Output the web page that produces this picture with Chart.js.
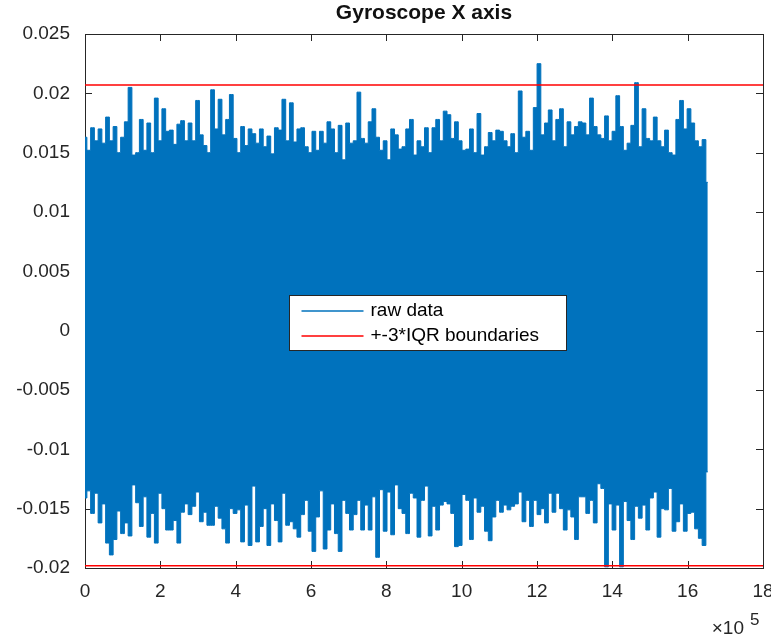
<!DOCTYPE html>
<html>
<head>
<meta charset="utf-8">
<title>Gyroscope X axis</title>
<script src="https://cdn.jsdelivr.net/npm/chart.js@4.4.1/dist/chart.umd.min.js"></script>
<style>
  html, body { margin: 0; padding: 0; background: #fff; }
</style>
</head>
<body>
<canvas id="gyro" width="771" height="640"></canvas>
<script>
// the raw signal has ~1.65M samples, so the band is kept as its upper and
// lower envelope, one pair every sampleStep samples
var sampleStep = 9960;
var rawUpper = [
    0.0163, 0.0152, 0.0171, 0.0160, 0.0170, 0.0158, 0.0180, 0.0160, 0.0172, 0.0150,
    0.0163, 0.0176, 0.0205, 0.0148, 0.0150, 0.0178, 0.0152, 0.0175, 0.0150, 0.0196,
    0.0160, 0.0187, 0.0168, 0.0169, 0.0157, 0.0174, 0.0177, 0.0160, 0.0175, 0.0160,
    0.0194, 0.0165, 0.0156, 0.0150, 0.0203, 0.0170, 0.0195, 0.0165, 0.0178, 0.0199,
    0.0162, 0.0150, 0.0172, 0.0156, 0.0170, 0.0166, 0.0158, 0.0170, 0.0155, 0.0164,
    0.0149, 0.0171, 0.0169, 0.0195, 0.0160, 0.0192, 0.0159, 0.0170, 0.0171, 0.0155,
    0.0150, 0.0168, 0.0152, 0.0168, 0.0158, 0.0176, 0.0170, 0.0150, 0.0173, 0.0144,
    0.0175, 0.0158, 0.0160, 0.0201, 0.0162, 0.0158, 0.0176, 0.0187, 0.0163, 0.0152,
    0.0160, 0.0144, 0.0170, 0.0165, 0.0153, 0.0155, 0.0170, 0.0178, 0.0148, 0.0160,
    0.0155, 0.0171, 0.0150, 0.0171, 0.0178, 0.0160, 0.0185, 0.0182, 0.0162, 0.0176,
    0.0160, 0.0152, 0.0153, 0.0170, 0.0150, 0.0183, 0.0148, 0.0155, 0.0167, 0.0160,
    0.0169, 0.0168, 0.0160, 0.0155, 0.0166, 0.0150, 0.0202, 0.0163, 0.0168, 0.0152,
    0.0188, 0.0225, 0.0165, 0.0175, 0.0186, 0.0160, 0.0178, 0.0187, 0.0155, 0.0176,
    0.0165, 0.0172, 0.0176, 0.0175, 0.0165, 0.0196, 0.0172, 0.0165, 0.0162, 0.0181,
    0.0160, 0.0168, 0.0198, 0.0172, 0.0152, 0.0158, 0.0173, 0.0209, 0.0155, 0.0187,
    0.0162, 0.0160, 0.0180, 0.0160, 0.0155, 0.0169, 0.0150, 0.0148, 0.0178, 0.0194,
    0.0170, 0.0187, 0.0175, 0.0160, 0.0155, 0.0161, 0.0125
];
var rawLower = [
    -0.0141, -0.0135, -0.0154, -0.0137, -0.0162, -0.0146, -0.0179, -0.0189, -0.0176, -0.0152,
    -0.0171, -0.0162, -0.0173, -0.0130, -0.0145, -0.0165, -0.0140, -0.0174, -0.0154, -0.0179,
    -0.0137, -0.0150, -0.0168, -0.0168, -0.0160, -0.0179, -0.0153, -0.0146, -0.0155, -0.0148,
    -0.0136, -0.0161, -0.0153, -0.0164, -0.0164, -0.0148, -0.0158, -0.0167, -0.0179, -0.0150,
    -0.0154, -0.0151, -0.0178, -0.0147, -0.0181, -0.0131, -0.0178, -0.0165, -0.0150, -0.0181,
    -0.0146, -0.0160, -0.0178, -0.0137, -0.0164, -0.0161, -0.0167, -0.0174, -0.0155, -0.0143,
    -0.0169, -0.0186, -0.0157, -0.0135, -0.0184, -0.0168, -0.0146, -0.0171, -0.0186, -0.0143,
    -0.0154, -0.0168, -0.0155, -0.0143, -0.0168, -0.0147, -0.0168, -0.0140, -0.0191, -0.0134,
    -0.0169, -0.0136, -0.0172, -0.0130, -0.0150, -0.0154, -0.0171, -0.0137, -0.0141, -0.0174,
    -0.0143, -0.0131, -0.0173, -0.0148, -0.0168, -0.0147, -0.0144, -0.0146, -0.0154, -0.0182,
    -0.0181, -0.0138, -0.0143, -0.0176, -0.0141, -0.0153, -0.0148, -0.0169, -0.0177, -0.0157,
    -0.0143, -0.0153, -0.0147, -0.0151, -0.0148, -0.0146, -0.0136, -0.0161, -0.0143, -0.0165,
    -0.0143, -0.0155, -0.0150, -0.0162, -0.0137, -0.0153, -0.0137, -0.0150, -0.0168, -0.0151,
    -0.0157, -0.0176, -0.0140, -0.0140, -0.0154, -0.0143, -0.0162, -0.0129, -0.0133, -0.0199,
    -0.0146, -0.0168, -0.0147, -0.0199, -0.0144, -0.0160, -0.0176, -0.0148, -0.0158, -0.0147,
    -0.0168, -0.0141, -0.0136, -0.0174, -0.0150, -0.0151, -0.0133, -0.0169, -0.0161, -0.0146,
    -0.0169, -0.0154, -0.0153, -0.0167, -0.0175, -0.0181, -0.0119
];
var iqrUpper = 0.0207;
var iqrLower = -0.0198;
var xRange = [0, 1800000];
var xTickLabels = [0, 2, 4, 6, 8, 10, 12, 14, 16, 18];   // in units of 10^5
var yTickValues = [-0.02, -0.015, -0.01, -0.005, 0, 0.005, 0.01, 0.015, 0.02, 0.025];
var legendNames = ['raw data', '+-3*IQR boundaries'];

var blue = '#0072BD';
var red = '#FF0000';
var axisColor = '#262626';
var fontFamily = "'Liberation Sans', Arial, Helvetica, sans-serif";
var tickLen = 7;

function envelope(vals) {
    return vals.map(function(v, i) { return {x: i * sampleStep, y: v}; });
}
function flat(v) {
    return xRange.map(function(x) { return {x: x, y: v}; });
}

// box, inward ticks, legend in the middle and the x10^5 exponent
var matlabFrame = {
    id: 'matlabFrame',
    beforeDatasetsDraw: function(chart) {
        var a = chart.chartArea, ctx = chart.ctx;
        var xs = chart.scales.x, ys = chart.scales.y;
        ctx.save();
        ctx.strokeStyle = axisColor;
        ctx.lineWidth = 1;
        ctx.beginPath();
        xs.ticks.forEach(function(t) {
            var px = Math.round(xs.getPixelForValue(t.value)) + 0.5;
            ctx.moveTo(px, a.bottom); ctx.lineTo(px, a.bottom - tickLen);
            ctx.moveTo(px, a.top); ctx.lineTo(px, a.top + tickLen);
        });
        ys.ticks.forEach(function(t) {
            var py = Math.round(ys.getPixelForValue(t.value)) + 0.5;
            ctx.moveTo(a.left, py); ctx.lineTo(a.left + tickLen, py);
            ctx.moveTo(a.right, py); ctx.lineTo(a.right - tickLen, py);
        });
        ctx.stroke();
        ctx.strokeRect(Math.round(a.left) + 0.5, Math.round(a.top) + 0.5,
            Math.round(a.right - a.left), Math.round(a.bottom - a.top));
        ctx.restore();
    },
    afterDraw: function(chart) {
        var a = chart.chartArea, ctx = chart.ctx;
        var w = 277, h = 55;
        var bx = Math.round(a.left + (a.right - a.left) * 0.505 - w / 2) + 0.5;
        var by = Math.round(a.top + (a.bottom - a.top) * 0.54 - h / 2) + 0.5;
        ctx.save();
        ctx.fillStyle = '#fff';
        ctx.fillRect(bx, by, w, h);
        ctx.strokeStyle = axisColor;
        ctx.lineWidth = 1;
        ctx.strokeRect(bx, by, w, h);
        var colors = [blue, red];
        ctx.font = '19px ' + fontFamily;
        ctx.textBaseline = 'middle';
        ctx.textAlign = 'left';
        legendNames.forEach(function(name, i) {
            var ry = Math.round(by + 15 + i * 25);
            ctx.strokeStyle = colors[i];
            ctx.lineWidth = 1.3;
            ctx.beginPath();
            ctx.moveTo(bx + 12, ry);
            ctx.lineTo(bx + 74, ry);
            ctx.stroke();
            ctx.fillStyle = '#000';
            ctx.fillText(name, bx + 81, ry);
        });

        ctx.fillStyle = axisColor;
        ctx.textBaseline = 'alphabetic';
        ctx.textAlign = 'right';
        ctx.font = '19px ' + fontFamily;
        ctx.fillText('\u00d710', a.right - 19, a.bottom + 66);
        ctx.textAlign = 'left';
        ctx.font = '17px ' + fontFamily;
        ctx.fillText('5', a.right - 13, a.bottom + 57);
        ctx.restore();
    }
};

var ctx = document.getElementById('gyro');
var gyroChart = new Chart(ctx.getContext('2d'), {
    type: 'line',
    data: {
        datasets: [{
            label: legendNames[1],
            data: flat(iqrUpper),
            borderColor: red,
            borderWidth: 1.5,
            pointRadius: 0,
            fill: false,
            order: 0
        }, {
            label: legendNames[1] + ' (lower)',
            data: flat(iqrLower),
            borderColor: red,
            borderWidth: 1.5,
            pointRadius: 0,
            fill: false,
            order: 0
        }, {
            label: legendNames[0],
            data: envelope(rawUpper),
            borderColor: blue,
            backgroundColor: blue,
            borderWidth: 1,
            pointRadius: 0,
            stepped: 'middle',
            fill: '+1',
            order: 1
        }, {
            label: legendNames[0] + ' (lower)',
            data: envelope(rawLower),
            borderColor: blue,
            borderWidth: 1,
            pointRadius: 0,
            stepped: 'middle',
            fill: false,
            order: 1
        }]
    },
    options: {
        responsive: false,
        animation: false,
        layout: { padding: { top: 0, right: 8, bottom: 0, left: 0 } },
        plugins: {
            legend: { display: false },
            tooltip: { enabled: false },
            title: {
                display: true,
                fullSize: false,
                text: 'Gyroscope X axis',
                color: '#111',
                font: { family: fontFamily, size: 21, weight: 'bold' },
                padding: { top: 1, bottom: 7.8 }
            }
        },
        scales: {
            x: {
                type: 'linear',
                min: xRange[0],
                max: xRange[1],
                afterBuildTicks: function(s) {
                    s.ticks = xTickLabels.map(function(v) { return {value: v * 1e5}; });
                },
                afterFit: function(s) {
                    s.height = 72;
                    s.paddingLeft = 0;
                    s.paddingRight = 0;
                },
                ticks: {
                    color: axisColor,
                    font: { family: fontFamily, size: 19 },
                    padding: 12,
                    maxRotation: 0,
                    callback: function(v) { return String(Math.round(v / 1e5)); }
                },
                grid: { display: false, drawTicks: false },
                border: { display: false }
            },
            y: {
                min: yTickValues[0],
                max: yTickValues[yTickValues.length - 1],
                afterBuildTicks: function(s) {
                    s.ticks = yTickValues.map(function(v) { return {value: v}; });
                },
                afterFit: function(s) {
                    s.width = 85;
                    s.paddingTop = 0;
                    s.paddingBottom = 0;
                },
                ticks: {
                    color: axisColor,
                    font: { family: fontFamily, size: 19 },
                    padding: 15,
                    callback: function(v) { return String(parseFloat(v.toFixed(4))); }
                },
                grid: { display: false, drawTicks: false },
                border: { display: false }
            }
        }
    },
    plugins: [matlabFrame]
});
</script>
</body>
</html>
